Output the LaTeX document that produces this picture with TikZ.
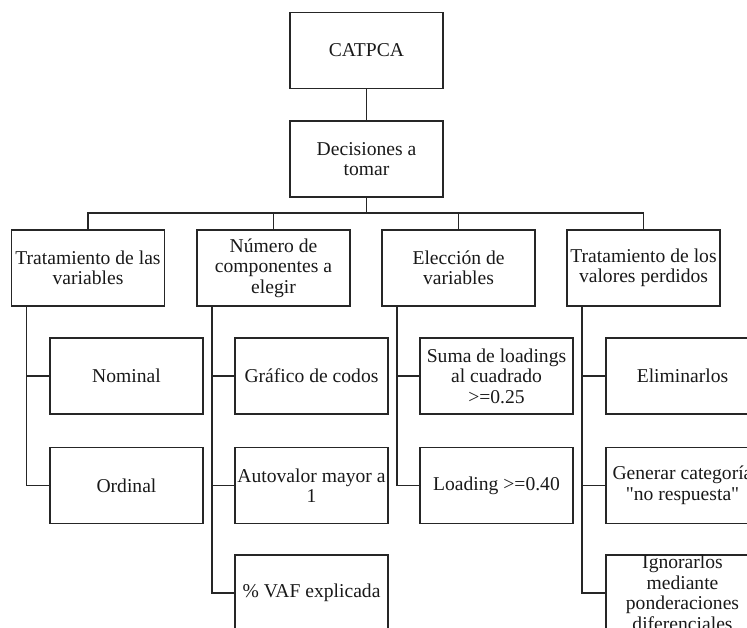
\documentclass[tikz,border=0pt]{standalone}
\usepackage{fontspec}
\setmainfont{Liberation Serif}[Ligatures=TeXOff]
\begin{document}
\begin{tikzpicture}[x=1pt,y=-1pt,
  box/.style={draw=black!85, line width=1.3pt, minimum width=153pt, minimum height=76pt, inner sep=0pt},
  txt/.style={align=center, inner sep=0pt, font=\fontsize{19.6}{20.5}\selectfont, text=black!90},
  conn/.style={draw=black!85, line width=1.3pt}]
\useasboundingbox (0,0) rectangle (747,627);
\clip (0,0) rectangle (747,627);
% top
\node[box] (cat) at (366.5,50.5) {};
\node[txt] (catT) at (cat) {CATPCA};
\node[box] (dec) at (366.5,159) {};
\node[txt] (decT) at (dec) {Decisiones a\\tomar};
% level 2
\node[box] (t1) at (88,268) {};
\node[txt] (t1T) at (t1) {Tratamiento de las\\variables};
\node[box] (t2) at (273.5,268) {};
\node[txt] (t2T) at (t2) {Número de\\componentes a\\elegir};
\node[box] (t3) at (458.5,268) {};
\node[txt] (t3T) at (t3) {Elección de\\variables};
\node[box] (t4) at (643.5,268) {};
\node[txt] (t4T) at (t4) {Tratamiento de los\\valores perdidos};
% level 3 col 1
\node[box] (a1) at (126.5,376) {};
\node[txt] (a1T) at (a1) {Nominal};
\node[box] (a2) at (126.5,485.5) {};
\node[txt] (a2T) at (a2) {Ordinal};
% col 2
\node[box] (b1) at (311.5,376) {};
\node[txt] (b1T) at (b1) {Gráfico de codos};
\node[box] (b2) at (311.5,485.5) {};
\node[txt] (b2T) at (b2) {Autovalor mayor a\\1};
\node[box] (b3) at (311.5,593) {};
\node[txt] (b3T) at (b3) {\% VAF explicada};
% col 3
\node[box] (c1) at (496.5,376) {};
\node[txt] (c1T) at (c1) {Suma de loadings\\al cuadrado\\>=0.25};
\node[box] (c2) at (496.5,485.5) {};
\node[txt] (c2T) at (c2) {Loading >=0.40};
% col 4
\node[box] (d1) at (682.5,376) {};
\node[txt] (d1T) at (d1) {Eliminarlos};
\node[box] (d2) at (682.5,485.5) {};
\node[txt] (d2T) at (d2) {Generar categoría\\"no respuesta"};
\node[box] (d3) at (682.5,593) {};
\node[txt] (d3T) at (d3) {Ignorarlos\\mediante\\ponderaciones\\diferenciales};
% connectors top
\coordinate (bar) at (366.5,213);
\draw[conn] (cat.south) -- (dec.north);
\draw[conn] (dec.south) -- (bar);
\draw[conn] (t1.north) -- (t1.north |- bar) -- (t4.north |- bar) -- (t4.north);
\draw[conn] (t2.north) -- (t2.north |- bar);
\draw[conn] (t3.north) -- (t3.north |- bar);
% trunks
\draw[conn] ([xshift=15.5pt]t1.south west) |- (a1.west);
\draw[conn] ([xshift=15.5pt]t1.south west) |- (a2.west);
\draw[conn] ([xshift=15.5pt]t2.south west) |- (b1.west);
\draw[conn] ([xshift=15.5pt]t2.south west) |- (b2.west);
\draw[conn] ([xshift=15.5pt]t2.south west) |- (b3.west);
\draw[conn] ([xshift=15.5pt]t3.south west) |- (c1.west);
\draw[conn] ([xshift=15.5pt]t3.south west) |- (c2.west);
\draw[conn] ([xshift=15.5pt]t4.south west) |- (d1.west);
\draw[conn] ([xshift=15.5pt]t4.south west) |- (d2.west);
\draw[conn] ([xshift=15.5pt]t4.south west) |- (d3.west);
\end{tikzpicture}
\end{document}
